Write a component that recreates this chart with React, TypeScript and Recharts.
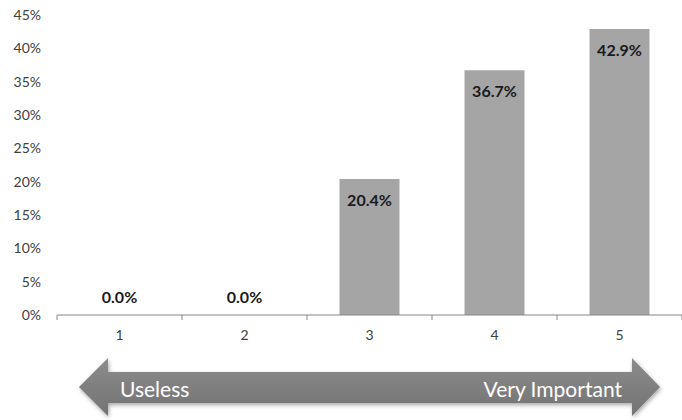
import React from 'react';
import { ComposedChart, Bar, Line, XAxis, YAxis, LabelList } from 'recharts';

// ratings 1..5, share of respondents (%)
const categories = ['1', '2', '3', '4', '5'];
const shares = [0.0, 0.0, 20.4, 36.7, 42.9];
const yTicks = [0, 5, 10, 15, 20, 25, 30, 35, 40, 45];
const scaleLow = 'Useless';
const scaleHigh = 'Very Important';

const chartData = categories.map((c, i) => ({ rating: c, share: shares[i] }));

const FONT = 'Lato, "Open Sans", sans-serif';

// x axis tick: label at the centre, tick marks at category edges (Excel style)
const CategoryTick = (props: any) => {
  const { x, y, payload, index } = props;
  const half = payload && payload.offset ? payload.offset : 62.5;
  return (
    <g>
      <line x1={x - half} x2={x - half} y1={y - 8} y2={y - 3} stroke="#868686" />
      {index === categories.length - 1 && (
        <line x1={x + half} x2={x + half} y1={y - 8} y2={y - 3} stroke="#868686" />
      )}
      <text x={x} y={y + 17} textAnchor="middle" fill="#404040" fontSize={14} fontFamily={FONT}>
        {payload.value}
      </text>
    </g>
  );
};

// labels sit inside the top of the bar, or just above the axis for empty bars
const ValueLabel = (props: any) => {
  const { x, y, value } = props;
  const cy = value > 0 ? y + 20 : y - 19;
  return (
    <text
      x={x}
      y={cy}
      textAnchor="middle"
      dominantBaseline="central"
      fontSize={16}
      fontWeight="bold"
      fill="#1a1a1a"
      fontFamily={FONT}
    >
      {Number(value).toFixed(1)}%
    </text>
  );
};

const ScaleArrow = () => (
  <svg width={682} height={420} style={{ position: 'absolute', left: 0, top: 0, pointerEvents: 'none' }}>
    <defs>
      <linearGradient id="arrowFill" x1="0" y1="0" x2="0" y2="1">
        <stop offset="0%" stopColor="#8c8c8c" />
        <stop offset="50%" stopColor="#7f7f7f" />
        <stop offset="100%" stopColor="#737373" />
      </linearGradient>
      <filter id="arrowShadow" x="-5%" y="-20%" width="110%" height="150%">
        <feDropShadow dx="1" dy="2" stdDeviation="2" floodColor="#000" floodOpacity="0.35" />
      </filter>
    </defs>
    <polygon
      points="79,387 108,358 108,372 632,372 632,358 660,387 632,416 632,403 108,403 108,416"
      fill="url(#arrowFill)"
      filter="url(#arrowShadow)"
    />
    <text x={120} y={388} dominantBaseline="central" fill="#ffffff" fontSize={21} fontFamily={FONT}>
      {scaleLow}
    </text>
    <text x={622} y={388} textAnchor="end" dominantBaseline="central" fill="#ffffff" fontSize={21} fontFamily={FONT}>
      {scaleHigh}
    </text>
  </svg>
);

export default function App() {
  return (
    <div style={{ position: 'absolute', left: 0, top: 0, width: 682, height: 420, background: '#fff' }}>
      <ComposedChart
        width={682}
        height={420}
        data={chartData}
        margin={{ top: 15, right: 0, bottom: 65, left: 0 }}
        barCategoryGap="26%"
      >
        <XAxis
          dataKey="rating"
          axisLine={{ stroke: '#868686' }}
          tickLine={false}
          tick={<CategoryTick />}
          height={40}
          interval={0}
        />
        <YAxis
          domain={[0, 45]}
          ticks={yTicks}
          axisLine={false}
          tickLine={false}
          width={57}
          tickMargin={10}
          tickFormatter={(v: number) => `${v}%`}
          tick={{ fill: '#404040', fontSize: 14, fontFamily: FONT }}
        />
        <Bar dataKey="share" fill="#a5a5a5" isAnimationActive={false} />
        <Line
          dataKey="share"
          stroke="none"
          dot={false}
          activeDot={false}
          legendType="none"
          isAnimationActive={false}
        >
          <LabelList dataKey="share" content={<ValueLabel />} />
        </Line>
      </ComposedChart>
      <ScaleArrow />
    </div>
  );
}
